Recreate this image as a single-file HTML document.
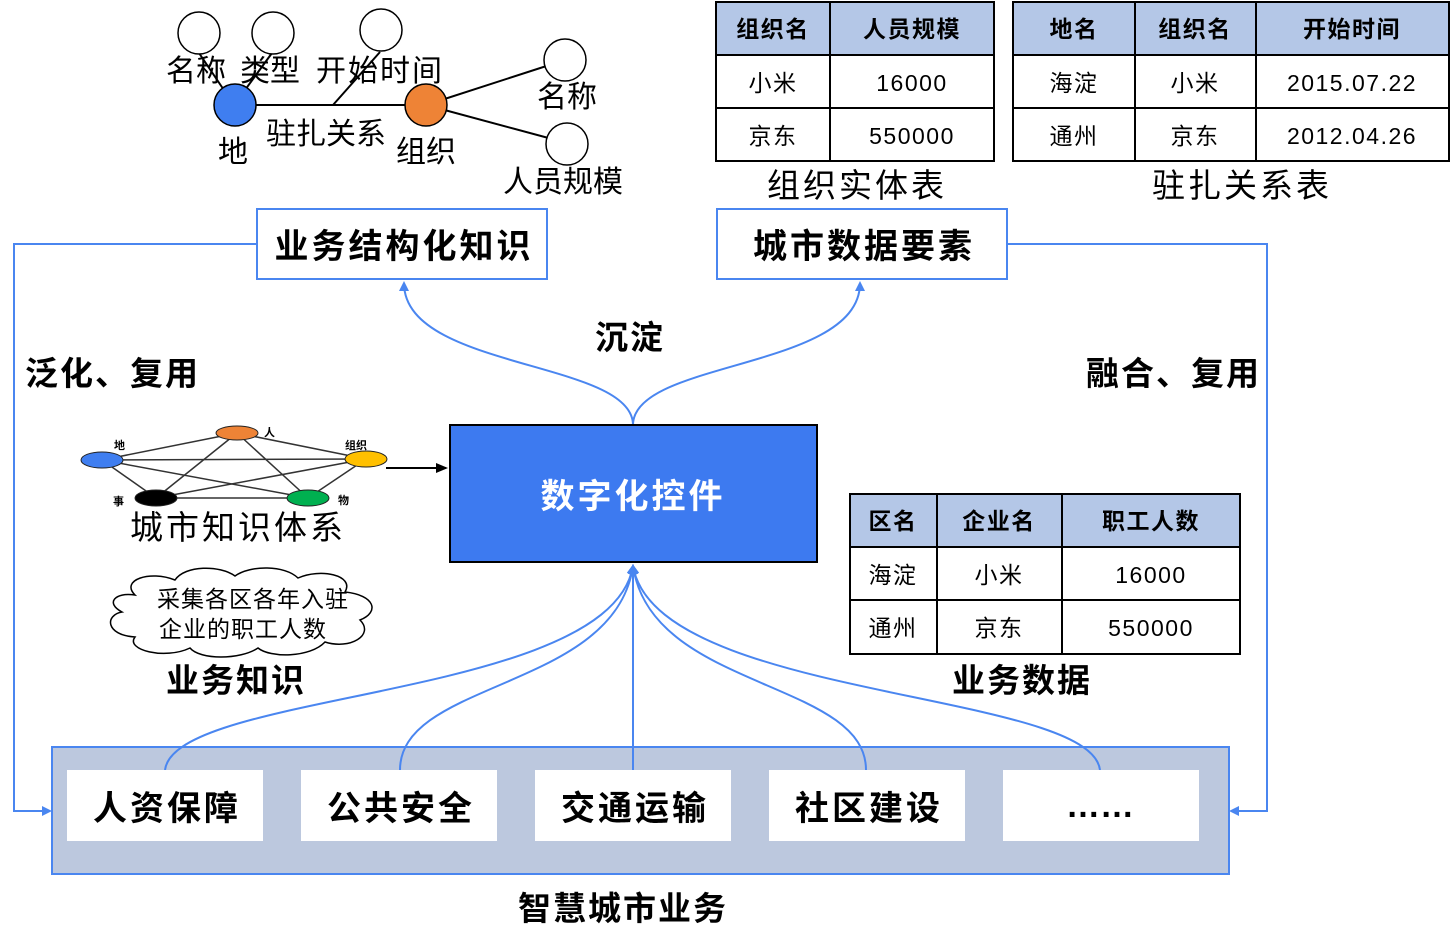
<!DOCTYPE html>
<html><head><meta charset="utf-8"><style>
body{margin:0;background:#fff}
svg{display:block}
text{font-family:"Liberation Sans","Noto Sans CJK SC",sans-serif}
.b{font-weight:bold}
</style></head><body>
<svg width="1452" height="951" viewBox="0 0 1452 951">
<defs>
<marker id="ab" markerWidth="10" markerHeight="10" refX="8" refY="5" orient="auto" markerUnits="userSpaceOnUse"><path d="M0,0 L10,5 L0,10 Z" fill="#4a86f0"/></marker>
<marker id="ak" markerWidth="12" markerHeight="10" refX="10" refY="5" orient="auto" markerUnits="userSpaceOnUse"><path d="M0,0 L12,5 L0,10 Z" fill="#000"/></marker>
</defs>
<g stroke="#000" stroke-width="2" fill="none">
<line x1="234" y1="105" x2="426" y2="105"/>
<line x1="234" y1="105" x2="199" y2="53"/>
<line x1="234" y1="105" x2="272" y2="53"/>
<line x1="333" y1="105" x2="380" y2="52"/>
<line x1="426" y1="105" x2="565" y2="60"/>
<line x1="426" y1="105" x2="567" y2="143"/>
</g>
<g stroke="#000" stroke-width="1.5" fill="#fff">
<circle cx="199" cy="33" r="21"/><circle cx="273" cy="33" r="21"/><circle cx="381" cy="30" r="21"/>
<circle cx="565" cy="60" r="21"/><circle cx="567" cy="144" r="21"/>
</g>
<circle cx="235" cy="105" r="21" fill="#3f7ef0" stroke="#000" stroke-width="1.5"/>
<circle cx="426" cy="105" r="21" fill="#ee8336" stroke="#000" stroke-width="1.5"/>
<g font-size="30" fill="#000">
<text x="166" y="81">名称</text><text x="240" y="81">类型</text><text x="316" y="81" letter-spacing="2">开始时间</text>
<text x="537" y="107">名称</text><text x="218" y="162">地</text><text x="266" y="144">驻扎关系</text>
<text x="396" y="162">组织</text><text x="503" y="192">人员规模</text>
</g>
<g stroke="#000" stroke-width="2">
<rect x="716" y="2" width="278" height="53" fill="#b4c7e7"/>
<rect x="716" y="55" width="278" height="106" fill="#fff"/>
<line x1="830" y1="2" x2="830" y2="161"/><line x1="716" y1="108" x2="994" y2="108"/>
<rect x="1013" y="2" width="436" height="53" fill="#b4c7e7"/>
<rect x="1013" y="55" width="436" height="106" fill="#fff"/>
<line x1="1135" y1="2" x2="1135" y2="161"/><line x1="1256" y1="2" x2="1256" y2="161"/><line x1="1013" y1="108" x2="1449" y2="108"/>
<rect x="850" y="494" width="390" height="53" fill="#b4c7e7"/>
<rect x="850" y="547" width="390" height="107" fill="#fff"/>
<line x1="937" y1="494" x2="937" y2="654"/><line x1="1062" y1="494" x2="1062" y2="654"/><line x1="850" y1="600" x2="1240" y2="600"/>
</g>
<g font-size="23" text-anchor="middle" fill="#000" letter-spacing="1.5">
<text x="773" y="37" class="b">组织名</text><text x="912" y="37" class="b">人员规模</text>
<text x="773" y="91">小米</text><text x="912" y="91">16000</text>
<text x="773" y="144">京东</text><text x="912" y="144">550000</text>
<text x="1074" y="37" class="b">地名</text><text x="1195" y="37" class="b">组织名</text><text x="1352" y="37" class="b">开始时间</text>
<text x="1074" y="91">海淀</text><text x="1195" y="91">小米</text><text x="1352" y="91">2015.07.22</text>
<text x="1074" y="144">通州</text><text x="1195" y="144">京东</text><text x="1352" y="144">2012.04.26</text>
<text x="893" y="529" class="b">区名</text><text x="999" y="529" class="b">企业名</text><text x="1151" y="529" class="b">职工人数</text>
<text x="893" y="583">海淀</text><text x="999" y="583">小米</text><text x="1151" y="583">16000</text>
<text x="893" y="636">通州</text><text x="999" y="636">京东</text><text x="1151" y="636">550000</text>
</g>
<g font-size="33" text-anchor="middle" fill="#000" letter-spacing="3">
<text x="857" y="197">组织实体表</text><text x="1242" y="197">驻扎关系表</text>
</g>
<g stroke="#4a86f0" stroke-width="2" fill="none">
<polyline points="257,244 14,244 14,811 50,811" marker-end="url(#ab)"/>
<polyline points="1007,244 1267,244 1267,811 1231,811" marker-end="url(#ab)"/>
<path d="M633,425 C633,360 404,370 404,283" marker-end="url(#ab)"/>
<path d="M633,425 C633,360 860,370 860,283" marker-end="url(#ab)"/>
</g>
<rect x="257" y="209" width="290" height="70" fill="#fff" stroke="#4a86f0" stroke-width="2"/>
<rect x="717" y="209" width="290" height="70" fill="#fff" stroke="#4a86f0" stroke-width="2"/>
<g font-size="34" class="b" text-anchor="middle" fill="#000" letter-spacing="3">
<text x="404" y="258">业务结构化知识</text><text x="864" y="258">城市数据要素</text>
</g>
<g font-size="33" class="b" fill="#000" letter-spacing="2">
<text x="595" y="349">沉淀</text>
<text x="25" y="385">泛化、复用</text>
<text x="1086" y="385">融合、复用</text>
<text x="166" y="692">业务知识</text>
<text x="952" y="692">业务数据</text>
<text x="518" y="920">智慧城市业务</text>
</g>
<g stroke="#333" stroke-width="1.5">
<line x1="102" y1="460" x2="237" y2="433"/><line x1="102" y1="460" x2="366" y2="459"/><line x1="102" y1="460" x2="156" y2="498"/><line x1="102" y1="460" x2="308" y2="498"/>
<line x1="237" y1="433" x2="366" y2="459"/><line x1="237" y1="433" x2="156" y2="498"/><line x1="237" y1="433" x2="308" y2="498"/>
<line x1="366" y1="459" x2="156" y2="498"/><line x1="366" y1="459" x2="308" y2="498"/><line x1="156" y1="498" x2="308" y2="498"/>
</g>
<g stroke="#222" stroke-width="1">
<ellipse cx="102" cy="460" rx="21" ry="8" fill="#3f7ef0"/>
<ellipse cx="237" cy="433" rx="21" ry="7" fill="#ee8336"/>
<ellipse cx="366" cy="459" rx="21" ry="8" fill="#ffc000"/>
<ellipse cx="156" cy="498" rx="21" ry="8" fill="#000"/>
<ellipse cx="308" cy="498" rx="21" ry="8" fill="#00b050"/>
</g>
<g font-size="11" class="b" fill="#000">
<text x="114" y="449">地</text><text x="264" y="436">人</text><text x="345" y="449">组织</text><text x="113" y="505">事</text><text x="338" y="504">物</text>
</g>
<text x="238" y="539" font-size="33" text-anchor="middle" fill="#000" letter-spacing="3">城市知识体系</text>
<line x1="386" y1="468" x2="446" y2="468" stroke="#000" stroke-width="2" marker-end="url(#ak)"/>
<path d="M135,595 C120,580 150,570 175,580 C185,565 220,565 235,576 C250,565 285,565 298,578 C320,568 355,575 345,592 C375,595 380,612 360,620 C375,635 350,650 325,642 C310,658 270,658 258,648 C240,660 200,660 190,648 C165,660 125,650 135,637 C105,635 105,615 122,612 C105,603 115,592 135,595 Z" fill="#fff" stroke="#000" stroke-width="1.5"/>
<g font-size="23" fill="#000" text-anchor="middle" letter-spacing="1"><text x="253" y="607">采集各区各年入驻</text><text x="243" y="637">企业的职工人数</text></g>
<rect x="450" y="425" width="367" height="137" fill="#3d7af0" stroke="#000" stroke-width="2"/>
<text x="633" y="508" font-size="34" class="b" fill="#fff" text-anchor="middle" letter-spacing="3">数字化控件</text>
<rect x="52" y="747" width="1177" height="127" fill="#bcc8de" stroke="#4a86f0" stroke-width="2"/>
<g stroke="#4a86f0" stroke-width="2" fill="none">
<path d="M165,770 C175,690 610,700 633,566" marker-end="url(#ab)"/>
<path d="M400,770 C400,680 615,690 633,566" marker-end="url(#ab)"/>
<path d="M633,770 L633,566" marker-end="url(#ab)"/>
<path d="M866,770 C866,680 651,690 633,566" marker-end="url(#ab)"/>
<path d="M1100,770 C1090,690 656,700 633,566" marker-end="url(#ab)"/>
</g>
<g fill="#fff">
<rect x="67" y="770" width="196" height="71"/><rect x="301" y="770" width="196" height="71"/><rect x="535" y="770" width="196" height="71"/><rect x="769" y="770" width="196" height="71"/><rect x="1003" y="770" width="196" height="71"/>
</g>
<g font-size="34" class="b" text-anchor="middle" fill="#000" letter-spacing="3">
<text x="167" y="820">人资保障</text><text x="401" y="820">公共安全</text><text x="635" y="820">交通运输</text><text x="869" y="820">社区建设</text><text x="1100" y="817" letter-spacing="0">……</text>
</g>
</svg>
</body></html>
